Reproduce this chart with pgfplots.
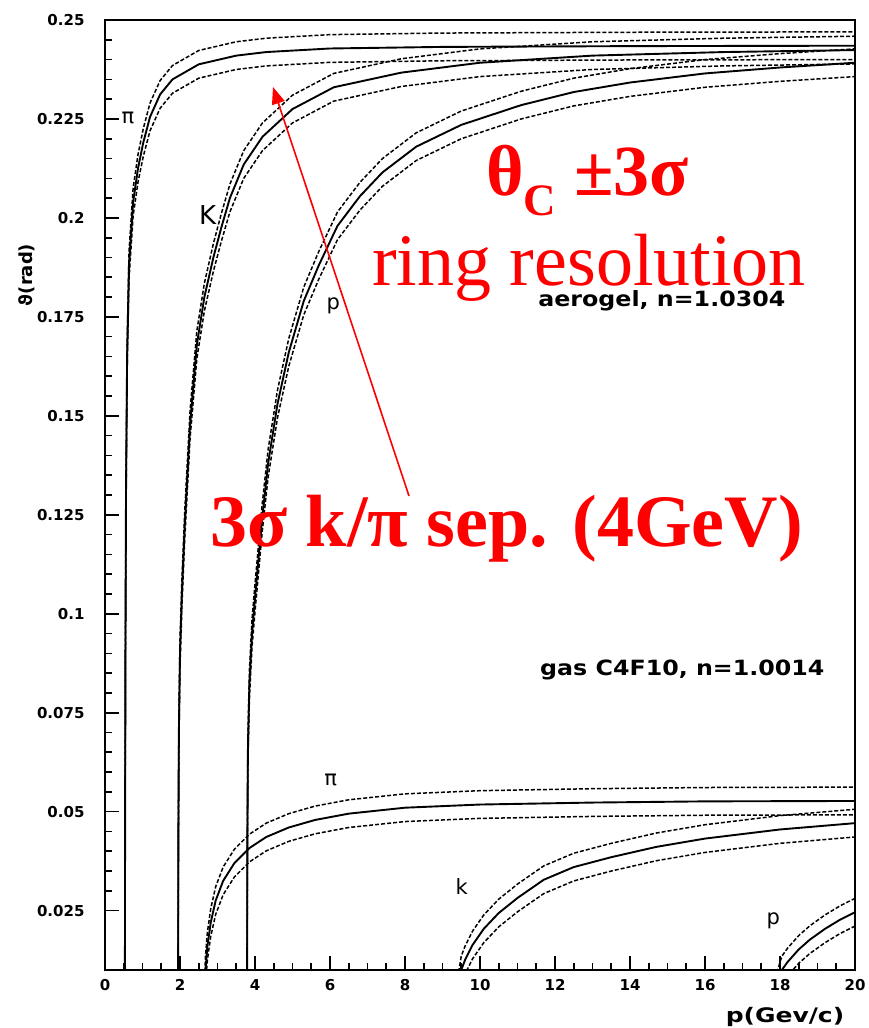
\documentclass[border=0pt]{standalone}
\usepackage{pgfplots}
\pgfplotsset{compat=1.18}
\usepackage{pgfplotstable}
\usepackage{fontspec}
\setmainfont{DejaVu Sans}
\newfontfamily\timesfont{Liberation Serif}
\usetikzlibrary{arrows.meta}

% Cherenkov angle (centre) with the +-3 sigma band, aerogel n=1.0304
\pgfplotstableread{
p     lo      c       hi
0.53  -0.0035 0.0000  0.0035
0.535 0.0365  0.0400  0.0435
0.545 0.0865  0.0900  0.0935
0.56  0.1265  0.1300  0.1335
0.59  0.1615  0.1650  0.1685
0.64  0.1845  0.1880  0.1915
0.75  0.2005  0.2040  0.2075
0.88  0.2090  0.2125  0.2160
1.02  0.2155  0.2190  0.2225
1.20  0.2220  0.2255  0.2290
1.47  0.2277  0.2312  0.2347
1.80  0.2315  0.2350  0.2385
2.50  0.2353  0.2388  0.2423
3.50  0.2375  0.2410  0.2445
4.30  0.2384  0.2419  0.2454
6.00  0.2393  0.2428  0.2463
9.00  0.2397  0.2432  0.2467
14.0  0.2399  0.2434  0.2469
20.0  0.2400  0.2435  0.2470
}\aeroPi

\pgfplotstableread{
p     lo      c       hi
1.95  -0.0035 0.0000  0.0035
1.955 0.0365  0.0400  0.0435
1.97  0.0665  0.0700  0.0735
2.00  0.0865  0.0900  0.0935
2.05  0.1015  0.1050  0.1085
2.13  0.1195  0.1230  0.1265
2.27  0.1445  0.1480  0.1515
2.45  0.1645  0.1680  0.1715
2.65  0.1765  0.1800  0.1835
2.89  0.1865  0.1900  0.1935
3.10  0.1940  0.1975  0.2010
3.33  0.2015  0.2050  0.2085
3.70  0.2100  0.2135  0.2170
4.20  0.2170  0.2205  0.2240
5.00  0.2240  0.2275  0.2310
6.10  0.2295  0.2330  0.2365
7.90  0.2332  0.2367  0.2402
10.0  0.2357  0.2392  0.2427
13.0  0.2375  0.2410  0.2445
16.5  0.2384  0.2419  0.2454
20.0  0.2389  0.2424  0.2459
}\aeroK

\pgfplotstableread{
p     lo      c       hi
3.79  -0.0035 0.0000  0.0035
3.795 0.0365  0.0400  0.0435
3.81  0.0615  0.0650  0.0685
3.85  0.0785  0.0820  0.0855
3.92  0.0915  0.0950  0.0985
4.00  0.1005  0.1040  0.1075
4.19  0.1205  0.1240  0.1275
4.35  0.1345  0.1380  0.1415
4.60  0.1495  0.1530  0.1565
4.90  0.1625  0.1660  0.1695
5.30  0.1755  0.1790  0.1825
5.70  0.1845  0.1880  0.1915
6.20  0.1945  0.1980  0.2015
6.80  0.2020  0.2055  0.2090
7.40  0.2080  0.2115  0.2150
8.30  0.2145  0.2180  0.2215
9.50  0.2200  0.2235  0.2270
11.1  0.2250  0.2285  0.2320
12.5  0.2283  0.2318  0.2353
14.0  0.2307  0.2342  0.2377
16.0  0.2330  0.2365  0.2400
18.0  0.2345  0.2380  0.2415
20.0  0.2357  0.2392  0.2427
}\aeroP

% gas radiator C4F10, n=1.0014
\pgfplotstableread{
p     lo      c       hi
2.64  -0.0035 0.0000  0.0035
2.68  0.0065  0.0100  0.0135
2.73  0.0125  0.0160  0.0195
2.82  0.0185  0.0220  0.0255
2.95  0.0240  0.0275  0.0310
3.15  0.0290  0.0325  0.0360
3.45  0.0335  0.0370  0.0405
3.85  0.0373  0.0408  0.0443
4.30  0.0401  0.0436  0.0471
4.90  0.0425  0.0460  0.0495
5.60  0.0444  0.0479  0.0514
6.50  0.0460  0.0495  0.0530
8.00  0.0475  0.0510  0.0545
10.0  0.0483  0.0518  0.0553
13.0  0.0488  0.0523  0.0558
16.0  0.0491  0.0526  0.0561
20.0  0.0492  0.0527  0.0562
}\gasPi

\pgfplotstableread{
p     lo      c       hi
9.33  -0.0035 0.0000  0.0035
9.50  0.0065  0.0100  0.0135
9.60  0.0090  0.0125  0.0160
9.80  0.0128  0.0163  0.0198
10.1  0.0169  0.0204  0.0239
10.5  0.0209  0.0244  0.0279
11.0  0.0247  0.0282  0.0317
11.7  0.0293  0.0328  0.0363
12.5  0.0325  0.0360  0.0395
13.5  0.0350  0.0385  0.0420
14.7  0.0376  0.0411  0.0446
16.0  0.0397  0.0432  0.0467
18.0  0.0420  0.0455  0.0490
20.0  0.0436  0.0471  0.0506
}\gasK

\pgfplotstableread{
p     lo      c       hi
17.73 -0.0035 0.0000  0.0035
18.05 0.0065  0.0100  0.0135
18.2  0.0085  0.0120  0.0155
18.5  0.0117  0.0152  0.0187
18.8  0.0142  0.0177  0.0212
19.2  0.0169  0.0204  0.0239
19.6  0.0192  0.0227  0.0262
20.0  0.0211  0.0246  0.0281
}\gasP

\tikzset{
  centre/.style={black, line width=1.9pt},
  band/.style={black, line width=1.5pt, dash pattern=on 4pt off 2pt},
  lbl/.style={font=\fontsize{21}{21}\selectfont, inner sep=0pt},
}

\newcommand{\bandplot}[1]{%
  \addplot[centre] table[x=p, y=c] {#1};
  \addplot[band] table[x=p, y=lo] {#1};
  \addplot[band] table[x=p, y=hi] {#1};
}

\begin{document}
\begin{tikzpicture}
\begin{axis}[
  at={(0pt,0pt)}, anchor=south west,
  scale only axis, width=750pt, height=950pt,
  xmin=0, xmax=20, ymin=0.01, ymax=0.25,
  axis line style={line width=2.4pt},
  xtick={0,2,4,6,8,10,12,14,16,18,20},
  xticklabels={0,2,4,6,8,10,12,14,16,18,20},
  ytick={0.025,0.05,0.075,0.1,0.125,0.15,0.175,0.2,0.225,0.25},
  yticklabels={0.025,0.05,0.075,0.1,0.125,0.15,0.175,0.2,0.225,0.25},
  minor x tick num=3, minor y tick num=4,
  xtick pos=left, ytick pos=left,
  tick align=inside,
  major tick length=14pt, minor tick length=7pt,
  every tick/.style={black, line width=1.6pt},
  ticklabel style={font=\bfseries\fontsize{15}{15}\selectfont},
  yticklabel style={xshift=-17pt},
  xticklabel style={yshift=-6pt},
]
\bandplot{\aeroPi}
\bandplot{\aeroK}
\bandplot{\aeroP}
\bandplot{\gasPi}
\bandplot{\gasK}
\bandplot{\gasP}

\node[lbl] at (axis cs:0.61,0.2252) {π};
\node[lbl, font=\fontsize{26}{26}\selectfont] at (axis cs:2.74,0.2007) {K};
\node[lbl] at (axis cs:6.09,0.1777) {p};
\node[lbl] at (axis cs:6.02,0.0580) {π};
\node[lbl] at (axis cs:9.51,0.0310) {k};
\node[lbl] at (axis cs:17.82,0.0225) {p};

\node[inner sep=0pt, anchor=west, xscale=1.13,
      font=\bfseries\fontsize{21}{21}\selectfont] at (axis cs:11.55,0.179) {aerogel, n=1.0304};
\node[inner sep=0pt, anchor=west, xscale=1.13,
      font=\bfseries\fontsize{21}{21}\selectfont] at (axis cs:11.6,0.0858) {gas C4F10, n=1.0014};
\end{axis}

% axis titles
\node[rotate=90, inner sep=0pt, font=\bfseries\fontsize{18}{18}\selectfont] at (-78pt,695pt) {ϑ(rad)};
\node[inner sep=0pt, xscale=1.25, font=\bfseries\fontsize{20}{20}\selectfont] at (680pt,-47pt) {p(Gev/c)};

% red annotations
\draw[red, line width=1.6pt, -{Triangle[length=17pt, width=13pt]}] (304pt,474pt) -- (168pt,883pt);
\node[red, anchor=base west, inner sep=0pt, font=\timesfont\bfseries\fontsize{72}{72}\selectfont]
  at (381pt,774pt) {θ\raisebox{-20pt}{\fontsize{45}{45}\selectfont C}\hspace{18pt}±3σ};
\node[red, anchor=base west, inner sep=0pt, font=\timesfont\fontsize{74}{74}\selectfont]
  at (267pt,684pt) {ring resolution};
\node[red, anchor=base west, inner sep=0pt, font=\timesfont\bfseries\fontsize{74}{74}\selectfont]
  at (105pt,423pt) {3σ k/π sep. (4GeV)};

\pgfresetboundingbox
\path (-105pt,-58pt) rectangle (763pt,970pt);
\end{tikzpicture}
\end{document}
